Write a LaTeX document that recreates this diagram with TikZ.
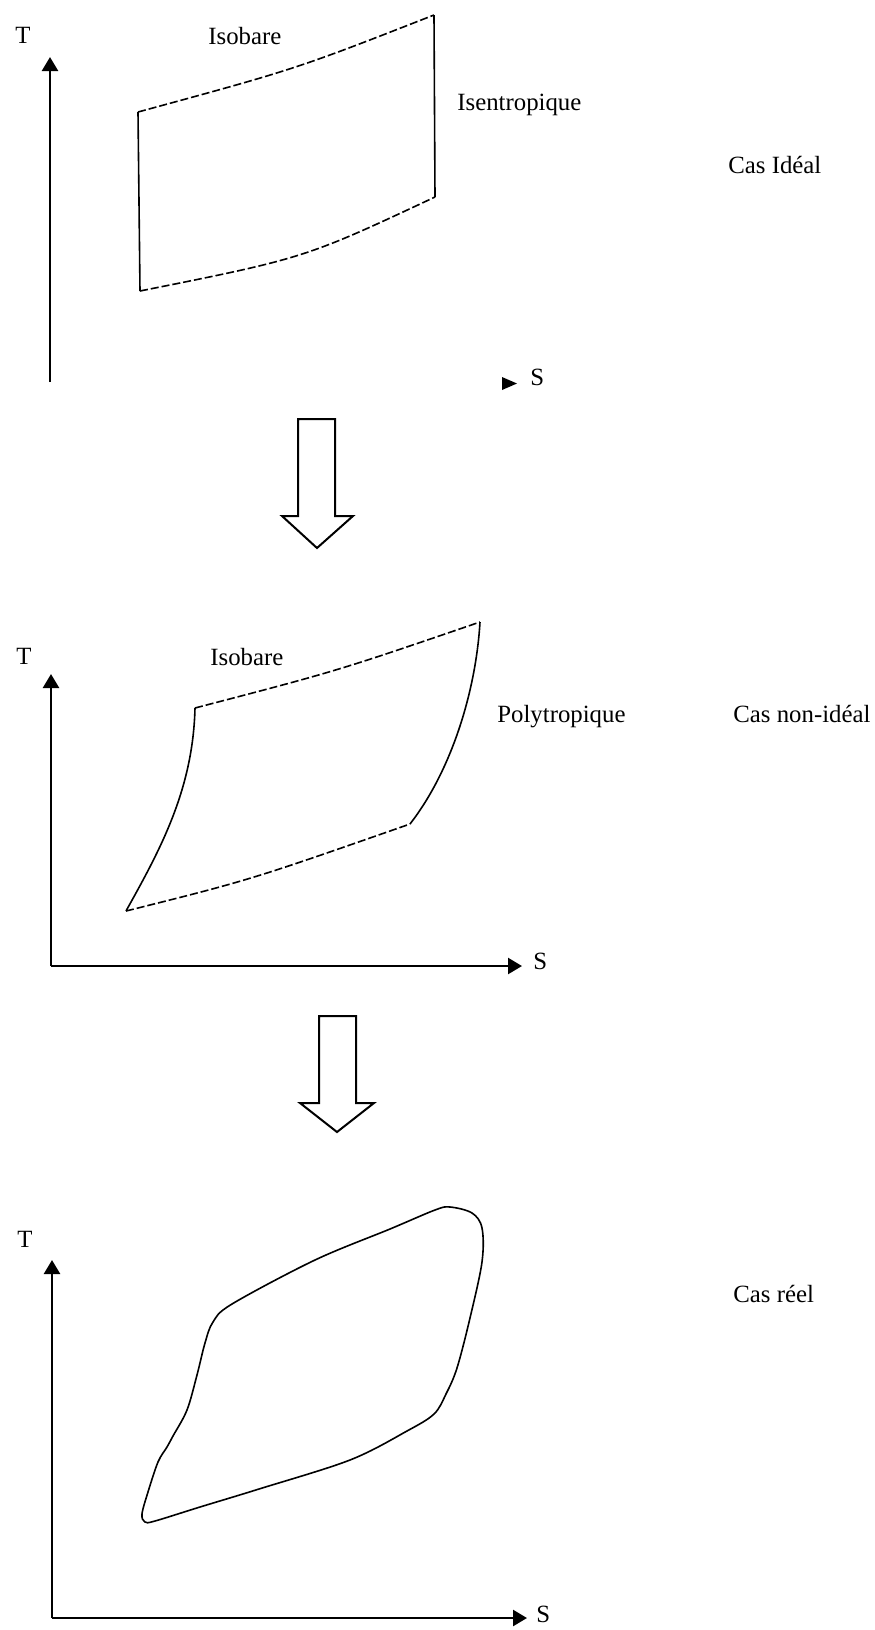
\documentclass[tikz,border=0pt]{standalone}
\usepackage{fontspec}
\setmainfont{Liberation Serif}
\usetikzlibrary{arrows.meta}
\tikzset{
  axis/.style={line width=1.2pt, -{Triangle[length=7pt,width=8pt]}},
  cycleline/.style={line width=0.8pt},
  isobar/.style={line width=0.8pt, dash pattern=on 4pt off 1.5pt},
  blockarrow/.style={line width=1pt, line join=miter},
  lbl/.style={font=\fontsize{12.4}{15}\selectfont, inner sep=0pt, anchor=base west}
}

\begin{document}
\begin{tikzpicture}[x=0.5pt, y=-0.5pt]
  \fill[white] (0,0) rectangle (874,1630);
  \useasboundingbox (0,0) rectangle (874,1630);

  % Cas ideal
  \coordinate (o1) at (50,382);
  \coordinate (t1) at (50,57);
  \draw[axis] (o1) -- (t1);
  \node[lbl] (T1) at (15,43.5) {T};
  \coordinate (s1) at (517,383.5);
  \fill (502,377) -- (s1) -- (502,390) -- cycle;
  \node[lbl] (S1) at (530,385) {S};
  \coordinate (a1) at (138,112);
  \coordinate (b1) at (434,15);
  \coordinate (c1) at (435,197);
  \coordinate (d1) at (140,291);
  \draw[isobar] (a1) .. controls (296,69) .. (b1);
  \draw[cycleline] (b1) -- (c1);
  \draw[isobar] (d1) .. controls (305,258) .. (c1);
  \draw[cycleline] (d1) -- (a1);
  \node[lbl] (iso1) at (208,44) {Isobare};
  \node[lbl] (isen) at (457,110) {Isentropique};
  \node[lbl] (cas1) at (728,173) {Cas Idéal};

  % Block arrow 1
  \draw[blockarrow] (298,419) -- (335,419) -- (335,516) -- (353,516) -- (317,548)
    -- (282,516) -- (298,516) -- cycle;

  % Cas non-ideal
  \coordinate (o2) at (51,966);
  \coordinate (t2) at (51,674);
  \coordinate (s2) at (522,966);
  \draw[axis] (o2) -- (t2);
  \draw[axis] (o2) -- (s2);
  \node[lbl] (T2) at (16,664) {T};
  \node[lbl] (S2) at (533,969) {S};
  \coordinate (a2) at (195,708);
  \coordinate (b2) at (480,622);
  \coordinate (c2) at (410,824);
  \coordinate (d2) at (126,911);
  \draw[isobar] (a2) .. controls (337,671) .. (b2);
  \draw[cycleline] (b2) .. controls (476,690) and (452,770) .. (c2);
  \draw[isobar] (d2) .. controls (250,880) .. (c2);
  \draw[cycleline] (a2) .. controls (193,790) and (160,850) .. (d2);
  \node[lbl] (iso2) at (210,665) {Isobare};
  \node[lbl] (poly) at (497,722) {Polytropique};
  \node[lbl] (cas2) at (733,722) {Cas non-idéal};

  % Block arrow 2
  \draw[blockarrow] (319,1016) -- (356,1016) -- (356,1103) -- (374,1103) -- (337,1132)
    -- (300,1103) -- (319,1103) -- cycle;

  % Cas reel
  \coordinate (o3) at (52,1618);
  \coordinate (t3) at (52,1260);
  \coordinate (s3) at (527,1618);
  \draw[axis] (o3) -- (t3);
  \draw[axis] (o3) -- (s3);
  \node[lbl] (T3) at (17,1247) {T};
  \node[lbl] (S3) at (536,1622) {S};
  \draw[cycleline] plot[smooth cycle, tension=0.55] coordinates {
    (450,1207) (472,1213) (482,1228) (482,1262) (470,1318) (457,1368)
    (446,1394) (434,1414) (407,1431) (350,1460) (259,1489) (200,1507)
    (155,1521) (145,1522) (142,1514) (148,1492) (158,1462) (167,1447)
    (173,1436) (187,1410) (197,1375) (205,1343) (213,1322) (232,1304)
    (315,1260) (390,1229) (435,1210)};
  \node[lbl] (cas3) at (733,1302) {Cas réel};
\end{tikzpicture}
\end{document}
